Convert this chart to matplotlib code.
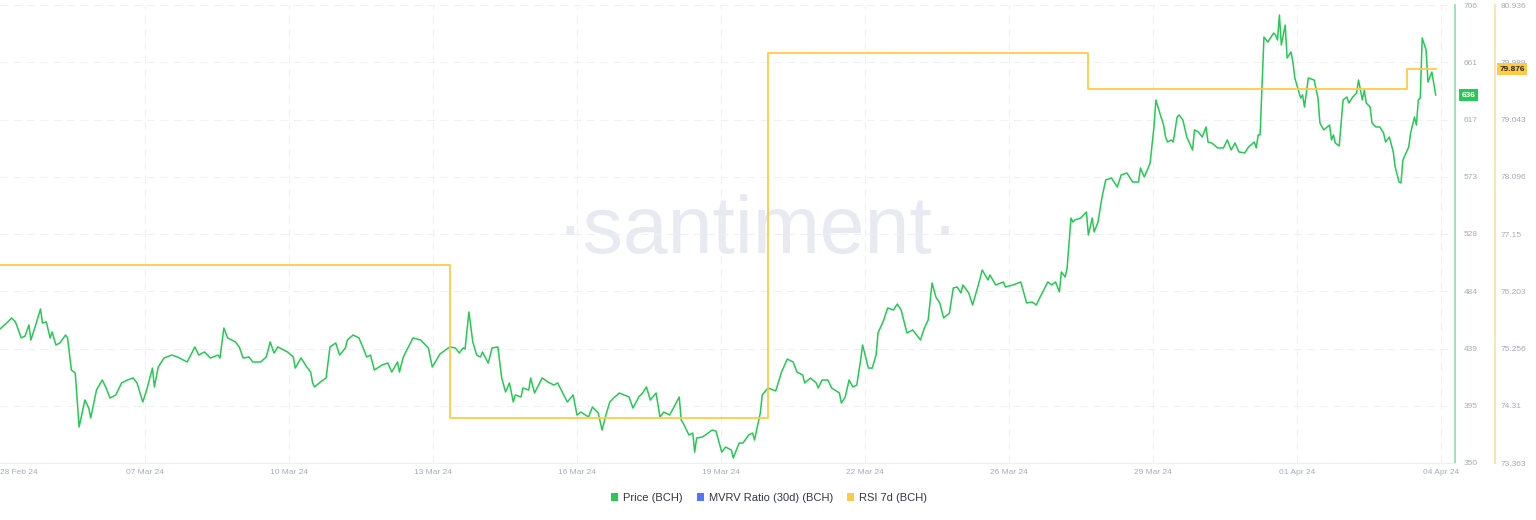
import numpy as np
import pandas as pd
import matplotlib.pyplot as plt
import matplotlib.transforms as mtransforms
from matplotlib.patches import Patch

plt.rcParams['font.family'] = ['Liberation Sans', 'DejaVu Sans']

# hourly data, sampled; hours counted from the series start
start = pd.Timestamp('2024-03-03 21:00')

price_hours = [
    0, 4, 6, 8, 9, 11, 13, 15, 16, 18, 21, 22, 24, 26, 27, 29, 31, 34, 35, 37,
    39, 41, 44, 46, 47, 50, 53, 55, 57, 60, 63, 66, 69, 71, 74, 76, 79, 80, 82, 85,
    89, 92, 97, 101, 103, 106, 109, 113, 114, 116, 118, 122, 124, 126, 129, 131, 135, 138, 140, 142,
    144, 149, 152, 153, 156, 159, 161, 162, 163, 166, 169, 171, 174, 176, 179, 180, 183, 186, 188, 190,
    192, 194, 198, 201, 203, 206, 207, 209, 214, 218, 222, 224, 228, 233, 236, 238, 240, 241, 243, 245,
    247, 249, 250, 253, 255, 258, 260, 262, 264, 266, 267, 270, 271, 274, 275, 277, 281, 284, 287, 289,
    294, 297, 299, 301, 305, 307, 310, 312, 314, 316, 318, 321, 326, 328, 331, 333, 335, 337, 340, 342,
    344, 347, 349, 352, 353, 354, 357, 359, 360, 361, 364, 367, 369, 371, 374, 376, 379, 380, 383, 385,
    388, 390, 391, 394, 395, 398, 402, 405, 408, 411, 413, 416, 417, 420, 423, 424, 426, 429, 431, 435,
    436, 438, 440, 442, 444, 446, 447, 450, 452, 454, 455, 458, 460, 463, 465, 467, 470, 473, 477, 479,
    481, 483, 485, 487, 489, 492, 494, 496, 498, 499, 502, 504, 507, 509, 512, 513, 516, 520, 521, 525,
    529, 532, 535, 537, 539, 543, 545, 547, 549, 550, 552, 553, 555, 556, 557, 560, 563, 564, 566, 567,
    569, 571, 573, 576, 579, 581, 584, 587, 590, 591, 593, 595, 596, 598, 599, 601, 603, 604, 605, 607,
    608, 610, 611, 613, 615, 618, 619, 621, 623, 625, 626, 628, 631, 634, 636, 638, 640, 642, 645, 647,
    650, 651, 652, 653, 655, 657, 660, 661, 662, 663, 664, 666, 667, 669, 670, 671, 674, 675, 676, 678,
    681, 683, 684, 686, 689, 690, 691, 692, 694, 696, 698, 699, 701, 703, 704, 706, 707, 708, 710, 711,
    713, 715, 717, 718, 720, 722, 723, 725, 726, 727, 730, 731, 733, 734, 735, 736, 737, 739, 740, 742,
    744,
]
price_values = [
    454.2, 459.6, 462.7, 459.6, 455.7, 447.2, 448.7, 457.3, 445.6, 454.9, 469.7, 458.8, 459.6, 447.2, 451.8, 441.7, 443.3, 449.5, 447.2, 422.3,
    419.9, 378.0, 399.0, 392.7, 385.0, 406.7, 414.5, 408.3, 400.5, 402.9, 412.2, 414.5, 416.1, 412.2, 397.4, 406.7, 423.8, 409.1, 424.6, 431.6,
    433.9, 432.4, 428.5, 440.2, 433.9, 436.3, 431.6, 433.9, 431.6, 454.9, 447.2, 444.1, 440.2, 431.6, 432.4, 428.5, 428.5, 432.4, 444.1, 435.5,
    440.2, 436.3, 432.4, 423.8, 431.6, 424.6, 420.7, 412.2, 409.1, 412.9, 416.1, 440.2, 443.3, 433.9, 439.4, 445.6, 449.5, 447.2, 440.2, 432.4,
    433.9, 422.3, 426.2, 427.7, 420.7, 428.5, 420.7, 432.4, 447.2, 445.6, 439.4, 424.6, 434.7, 440.2, 439.4, 435.5, 439.4, 438.6, 467.4, 444.1,
    433.9, 432.4, 436.3, 427.7, 439.4, 440.2, 416.1, 405.2, 412.2, 397.4, 402.9, 401.3, 408.3, 406.7, 416.1, 404.4, 416.1, 412.9, 410.6, 412.2,
    397.4, 402.9, 387.3, 389.6, 385.8, 393.5, 388.9, 375.6, 387.3, 397.4, 400.5, 404.4, 401.3, 392.7, 401.3, 404.4, 409.1, 399.0, 404.4, 385.8,
    389.6, 387.3, 392.7, 401.3, 383.4, 381.1, 371.8, 373.3, 358.5, 369.4, 370.2, 373.3, 375.6, 374.9, 358.5, 362.4, 360.1, 353.9, 365.5, 365.5,
    371.8, 373.3, 367.9, 388.9, 402.9, 408.3, 406.0, 420.7, 430.8, 428.5, 420.7, 418.4, 412.2, 416.1, 412.2, 408.3, 414.5, 414.5, 408.3, 404.4,
    396.6, 401.3, 414.5, 409.1, 410.6, 430.1, 441.7, 423.8, 423.8, 433.9, 451.1, 461.2, 470.5, 468.9, 473.6, 468.9, 451.1, 453.4, 445.6, 454.9,
    461.2, 489.9, 479.0, 474.4, 462.7, 466.6, 486.0, 486.8, 482.2, 488.4, 482.2, 472.8, 488.4, 500.0, 492.3, 496.1, 488.4, 490.7, 486.8, 488.4,
    490.7, 474.4, 475.1, 472.8, 479.0, 490.7, 488.4, 490.7, 483.0, 498.5, 494.6, 501.6, 540.4, 537.3, 538.9, 540.4, 545.1, 527.2, 540.4, 529.6,
    537.3, 556.0, 570.0, 571.5, 564.5, 573.9, 575.4, 568.4, 568.4, 579.3, 572.3, 579.3, 583.2, 611.2, 632.2, 622.1, 612.7, 603.4, 599.5, 601.1,
    599.5, 618.9, 620.5, 616.6, 603.4, 593.3, 608.9, 607.3, 603.4, 611.2, 599.5, 598.7, 594.9, 594.9, 601.1, 593.3, 598.7, 591.8, 591.0, 595.6,
    599.5, 594.9, 605.0, 605.0, 681.1, 677.2, 684.2, 682.7, 678.8, 698.2, 674.9, 690.4, 664.8, 669.5, 661.7, 649.3, 633.7, 636.1, 626.7, 649.3,
    647.7, 633.7, 614.3, 608.9, 612.7, 601.1, 605.0, 598.7, 596.4, 632.2, 634.5, 629.8, 634.5, 637.6, 647.7, 632.2, 639.9, 629.8, 626.7, 614.3,
    611.2, 611.2, 606.5, 599.5, 603.4, 591.8, 580.1, 568.4, 567.6, 585.5, 595.6, 606.5, 618.9, 612.7, 632.2, 633.7, 680.4, 671.0, 646.1, 653.9,
    636.0,
]

# RSI 7d changes roughly once a week
rsi_hours = [0, 233, 398, 564, 729, 744]
rsi_values = [76.637, 74.107, 80.142, 79.547, 79.876, 79.876]

price_tick_labels = ['350', '395', '439', '484', '528', '573', '617', '661', '706']
rsi_tick_labels = ['73.363', '74.31', '75.256', '76.203', '77.15', '78.096', '79.043', '79.989', '80.936']
date_labels = ['28 Feb 24', '07 Mar 24', '10 Mar 24', '13 Mar 24', '16 Mar 24', '19 Mar 24',
               '22 Mar 24', '26 Mar 24', '29 Mar 24', '01 Apr 24', '04 Apr 24']
legend_labels = ['Price (BCH)', 'MVRV Ratio (30d) (BCH)', 'RSI 7d (BCH)']

green = '#26c953'
blue = '#5275ff'
yellow = '#ffcb47'
tick_color = '#a7abbe'
grid_color = '#eef0f4'
dash = (0, (7, 5))

price_time = start + pd.to_timedelta(price_hours, unit='h')
rsi_time = start + pd.to_timedelta(rsi_hours, unit='h')

fig = plt.figure(figsize=(15.36, 5.2), dpi=100)
ax = fig.add_axes([0, 1 - 463 / 520, 1455 / 1536, 458 / 520])
ax2 = ax.twinx()

ax.set_xlim(start, start + pd.Timedelta(hours=754))
ax.set_ylim(350, 706)
ax2.set_ylim(73.363, 80.936)

# date ticks
tick_dates = [pd.Timestamp('2024-03-04 07:00')] + list(
    pd.date_range('2024-03-07', '2024-04-04', periods=10))
ax.set_xticks(tick_dates)
ax.set_xticklabels(date_labels)
ax.tick_params(axis='x', length=0, pad=4, labelsize=6, labelcolor=tick_color)
for d in tick_dates[1:]:
    ax.axvline(d, color=grid_color, lw=0.8, ls=dash, zorder=0.5)

ax.set_yticks(np.linspace(350, 706, 9))
ax.set_yticklabels(price_tick_labels)
ax.yaxis.tick_right()
ax.tick_params(axis='y', length=0, pad=6, labelsize=6, labelcolor=tick_color)
ax.grid(axis='y', color=grid_color, lw=0.8, ls=dash)
ax.set_axisbelow(True)

ax2.set_yticks(np.linspace(73.363, 80.936, 9))
ax2.set_yticklabels(rsi_tick_labels)
ax2.tick_params(axis='y', length=0, pad=4, labelsize=6, labelcolor=tick_color)

for s in ['top', 'left']:
    ax.spines[s].set_visible(False)
    ax2.spines[s].set_visible(False)
ax.spines['bottom'].set_color('#eceef3')
ax2.spines['bottom'].set_visible(False)
ax.spines['right'].set_color('#93dcaa')
ax.spines['right'].set_linewidth(1.2)
ax2.spines['right'].set_position(('axes', 1495 / 1455))
ax2.spines['right'].set_color('#fbe2a4')
ax2.spines['right'].set_linewidth(1.2)

# watermark
ax.text(758 / 1455, (463 - 253) / 458, '\u00b7santiment\u00b7', transform=ax.transAxes,
        ha='center', va='baseline', fontsize=58, color='#e8eaf1', zorder=0.2)

ax.plot(price_time, price_values, color=green, lw=1.1, zorder=3)
ax2.plot(rsi_time, rsi_values, color=yellow, lw=1.3, drawstyle='steps-post', zorder=2)

# last value tags
tr = mtransforms.blended_transform_factory(ax.transAxes, ax.transData)
ax.text(1.0045, price_values[-1], f'{price_values[-1]:.0f}', transform=tr, ha='left', va='center',
        fontsize=6, fontweight='bold', color='white', clip_on=False, zorder=5,
        bbox=dict(boxstyle='square,pad=0.3', fc=green, ec='none'))
tr2 = mtransforms.blended_transform_factory(ax2.transAxes, ax2.transData)
ax2.text(1.0305, rsi_values[-1], f'{rsi_values[-1]:.3f}', transform=tr2, ha='left', va='center',
         fontsize=6, fontweight='bold', color='#2a2a2a', clip_on=False, zorder=5,
         bbox=dict(boxstyle='square,pad=0.3', fc=yellow, ec='none'))

handles = [Patch(facecolor=c, edgecolor='none') for c in [green, blue, yellow]]
fig.legend(handles, legend_labels, loc='center', bbox_to_anchor=(769 / 1536, 1 - 498 / 520),
           ncol=3, frameon=False, fontsize=8, handlelength=0.65, handleheight=0.65,
           handletextpad=0.4, columnspacing=1.3, labelcolor='#333744')

fig.savefig('out.png', dpi=100)
